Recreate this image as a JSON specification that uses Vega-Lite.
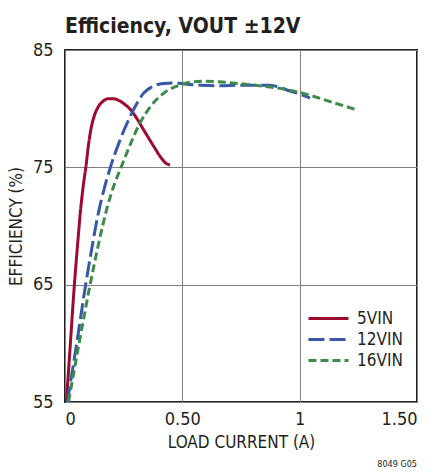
{
  "$schema": "https://vega.github.io/schema/vega-lite/v6.json",
  "width": 352,
  "height": 352,
  "autosize": {"type": "none"},
  "padding": {"left": 65, "top": 50, "right": 17, "bottom": 71},
  "background": "white",
  "title": {
    "text": "Efficiency, VOUT ±12V",
    "anchor": "start",
    "frame": "group",
    "baseline": "alphabetic",
    "offset": 12,
    "dy": 25,
    "font": "Liberation Sans Narrow, DejaVu Sans Condensed, sans-serif",
    "fontSize": 21,
    "fontWeight": "bold",
    "color": "#231f20"
  },
  "config": {
    "view": {"stroke": "#231f20", "strokeWidth": 2},
    "font": "Liberation Sans Narrow, DejaVu Sans Condensed, sans-serif",
    "axis": {
      "domain": false,
      "ticks": false,
      "tickSize": 0,
      "grid": true,
      "gridColor": "#808080",
      "gridWidth": 1,
      "labelFont": "Liberation Sans Narrow, DejaVu Sans Condensed, sans-serif",
      "labelFontSize": 18,
      "labelColor": "#231f20",
      "titleFont": "Liberation Sans Narrow, DejaVu Sans Condensed, sans-serif",
      "titleFontSize": 17,
      "titleFontWeight": "normal",
      "titleColor": "#231f20"
    },
    "legend": {
      "orient": "none",
      "legendX": 266,
      "legendY": 259,
      "title": null,
      "symbolType": "M-4,0H1",
      "symbolSize": 256,
      "symbolStrokeWidth": 3,
      "labelFontSize": 17,
      "labelColor": "#231f20",
      "labelOffset": 7,
      "rowPadding": 3,
      "labelFont": "Liberation Sans Narrow, DejaVu Sans Condensed, sans-serif"
    }
  },
  "datasets": {
    "curves": [
      {"series": "5VIN", "current": 0.006, "eff": 55.0},
      {"series": "5VIN", "current": 0.023, "eff": 60.0},
      {"series": "5VIN", "current": 0.04, "eff": 65.0},
      {"series": "5VIN", "current": 0.054, "eff": 68.5},
      {"series": "5VIN", "current": 0.067, "eff": 71.5},
      {"series": "5VIN", "current": 0.079, "eff": 73.6},
      {"series": "5VIN", "current": 0.09, "eff": 75.2},
      {"series": "5VIN", "current": 0.1, "eff": 76.9},
      {"series": "5VIN", "current": 0.112, "eff": 78.4},
      {"series": "5VIN", "current": 0.125, "eff": 79.4},
      {"series": "5VIN", "current": 0.14, "eff": 80.1},
      {"series": "5VIN", "current": 0.16, "eff": 80.6},
      {"series": "5VIN", "current": 0.185, "eff": 80.85},
      {"series": "5VIN", "current": 0.206, "eff": 80.85},
      {"series": "5VIN", "current": 0.23, "eff": 80.7},
      {"series": "5VIN", "current": 0.256, "eff": 80.35},
      {"series": "5VIN", "current": 0.28, "eff": 79.9},
      {"series": "5VIN", "current": 0.3, "eff": 79.35},
      {"series": "5VIN", "current": 0.341, "eff": 78.0},
      {"series": "5VIN", "current": 0.384, "eff": 76.6},
      {"series": "5VIN", "current": 0.41, "eff": 75.8},
      {"series": "5VIN", "current": 0.43, "eff": 75.35},
      {"series": "5VIN", "current": 0.447, "eff": 75.2},
      {"series": "12VIN", "current": 0.01, "eff": 55.0},
      {"series": "12VIN", "current": 0.05, "eff": 60.0},
      {"series": "12VIN", "current": 0.088, "eff": 65.0},
      {"series": "12VIN", "current": 0.11, "eff": 67.6},
      {"series": "12VIN", "current": 0.14, "eff": 70.9},
      {"series": "12VIN", "current": 0.17, "eff": 73.4},
      {"series": "12VIN", "current": 0.195, "eff": 75.1},
      {"series": "12VIN", "current": 0.234, "eff": 77.3},
      {"series": "12VIN", "current": 0.27, "eff": 79.0},
      {"series": "12VIN", "current": 0.305, "eff": 80.4},
      {"series": "12VIN", "current": 0.334, "eff": 81.3},
      {"series": "12VIN", "current": 0.369, "eff": 81.85},
      {"series": "12VIN", "current": 0.42, "eff": 82.15},
      {"series": "12VIN", "current": 0.47, "eff": 82.2},
      {"series": "12VIN", "current": 0.511, "eff": 82.1},
      {"series": "12VIN", "current": 0.58, "eff": 82.0},
      {"series": "12VIN", "current": 0.66, "eff": 81.95},
      {"series": "12VIN", "current": 0.75, "eff": 82.0},
      {"series": "12VIN", "current": 0.874, "eff": 82.0},
      {"series": "12VIN", "current": 0.916, "eff": 81.8},
      {"series": "12VIN", "current": 0.959, "eff": 81.5},
      {"series": "12VIN", "current": 1.0, "eff": 81.25},
      {"series": "12VIN", "current": 1.044, "eff": 80.9},
      {"series": "16VIN", "current": 0.015, "eff": 55.0},
      {"series": "16VIN", "current": 0.06, "eff": 60.0},
      {"series": "16VIN", "current": 0.107, "eff": 65.0},
      {"series": "16VIN", "current": 0.14, "eff": 68.2},
      {"series": "16VIN", "current": 0.18, "eff": 71.6},
      {"series": "16VIN", "current": 0.213, "eff": 73.7},
      {"series": "16VIN", "current": 0.241, "eff": 75.1},
      {"series": "16VIN", "current": 0.277, "eff": 76.9},
      {"series": "16VIN", "current": 0.3125, "eff": 78.5},
      {"series": "16VIN", "current": 0.369, "eff": 80.3},
      {"series": "16VIN", "current": 0.426, "eff": 81.4},
      {"series": "16VIN", "current": 0.497, "eff": 82.05},
      {"series": "16VIN", "current": 0.55, "eff": 82.3},
      {"series": "16VIN", "current": 0.6, "eff": 82.33},
      {"series": "16VIN", "current": 0.68, "eff": 82.25},
      {"series": "16VIN", "current": 0.774, "eff": 82.07},
      {"series": "16VIN", "current": 0.85, "eff": 81.9},
      {"series": "16VIN", "current": 0.916, "eff": 81.73},
      {"series": "16VIN", "current": 1.016, "eff": 81.3},
      {"series": "16VIN", "current": 1.13, "eff": 80.6},
      {"series": "16VIN", "current": 1.243, "eff": 79.9}
    ],
    "note": [{"text": "8049 G05"}]
  },
  "layer": [
    {
      "data": {"name": "curves"},
      "mark": {"type": "line", "interpolate": "monotone", "strokeWidth": 3},
      "encoding": {
        "x": {
          "field": "current",
          "type": "quantitative",
          "scale": {"domain": [0, 1.5], "nice": false, "zero": false},
          "axis": {
            "values": [0, 0.5, 1, 1.5],
            "labelExpr": "datum.value == 0 ? '0' : datum.value == 0.5 ? '0.50' : datum.value == 1 ? '1' : '1.50'",
            "labelPadding": 8,
            "title": "LOAD CURRENT (A)",
            "titlePadding": 6
          }
        },
        "y": {
          "field": "eff",
          "type": "quantitative",
          "scale": {"domain": [55, 85], "nice": false, "zero": false},
          "axis": {
            "values": [55, 65, 75, 85],
            "labelPadding": 12,
            "title": "EFFICIENCY (%)",
            "titlePadding": 7
          }
        },
        "color": {
          "field": "series",
          "type": "nominal",
          "scale": {"domain": ["5VIN", "12VIN", "16VIN"], "range": ["#9c0b2f", "#3857a8", "#3b8b4b"]}
        },
        "strokeDash": {
          "field": "series",
          "type": "nominal",
          "scale": {"domain": ["5VIN", "12VIN", "16VIN"], "range": [[1, 0], [16, 5], [8, 4]]}
        }
      }
    },
    {
      "data": {"name": "note"},
      "mark": {"type": "text", "align": "right", "baseline": "alphabetic", "fontSize": 9, "dy": 65, "color": "#231f20"},
      "encoding": {
        "x": {"datum": 1.5},
        "y": {"datum": 55},
        "text": {"field": "text"}
      }
    }
  ]
}
